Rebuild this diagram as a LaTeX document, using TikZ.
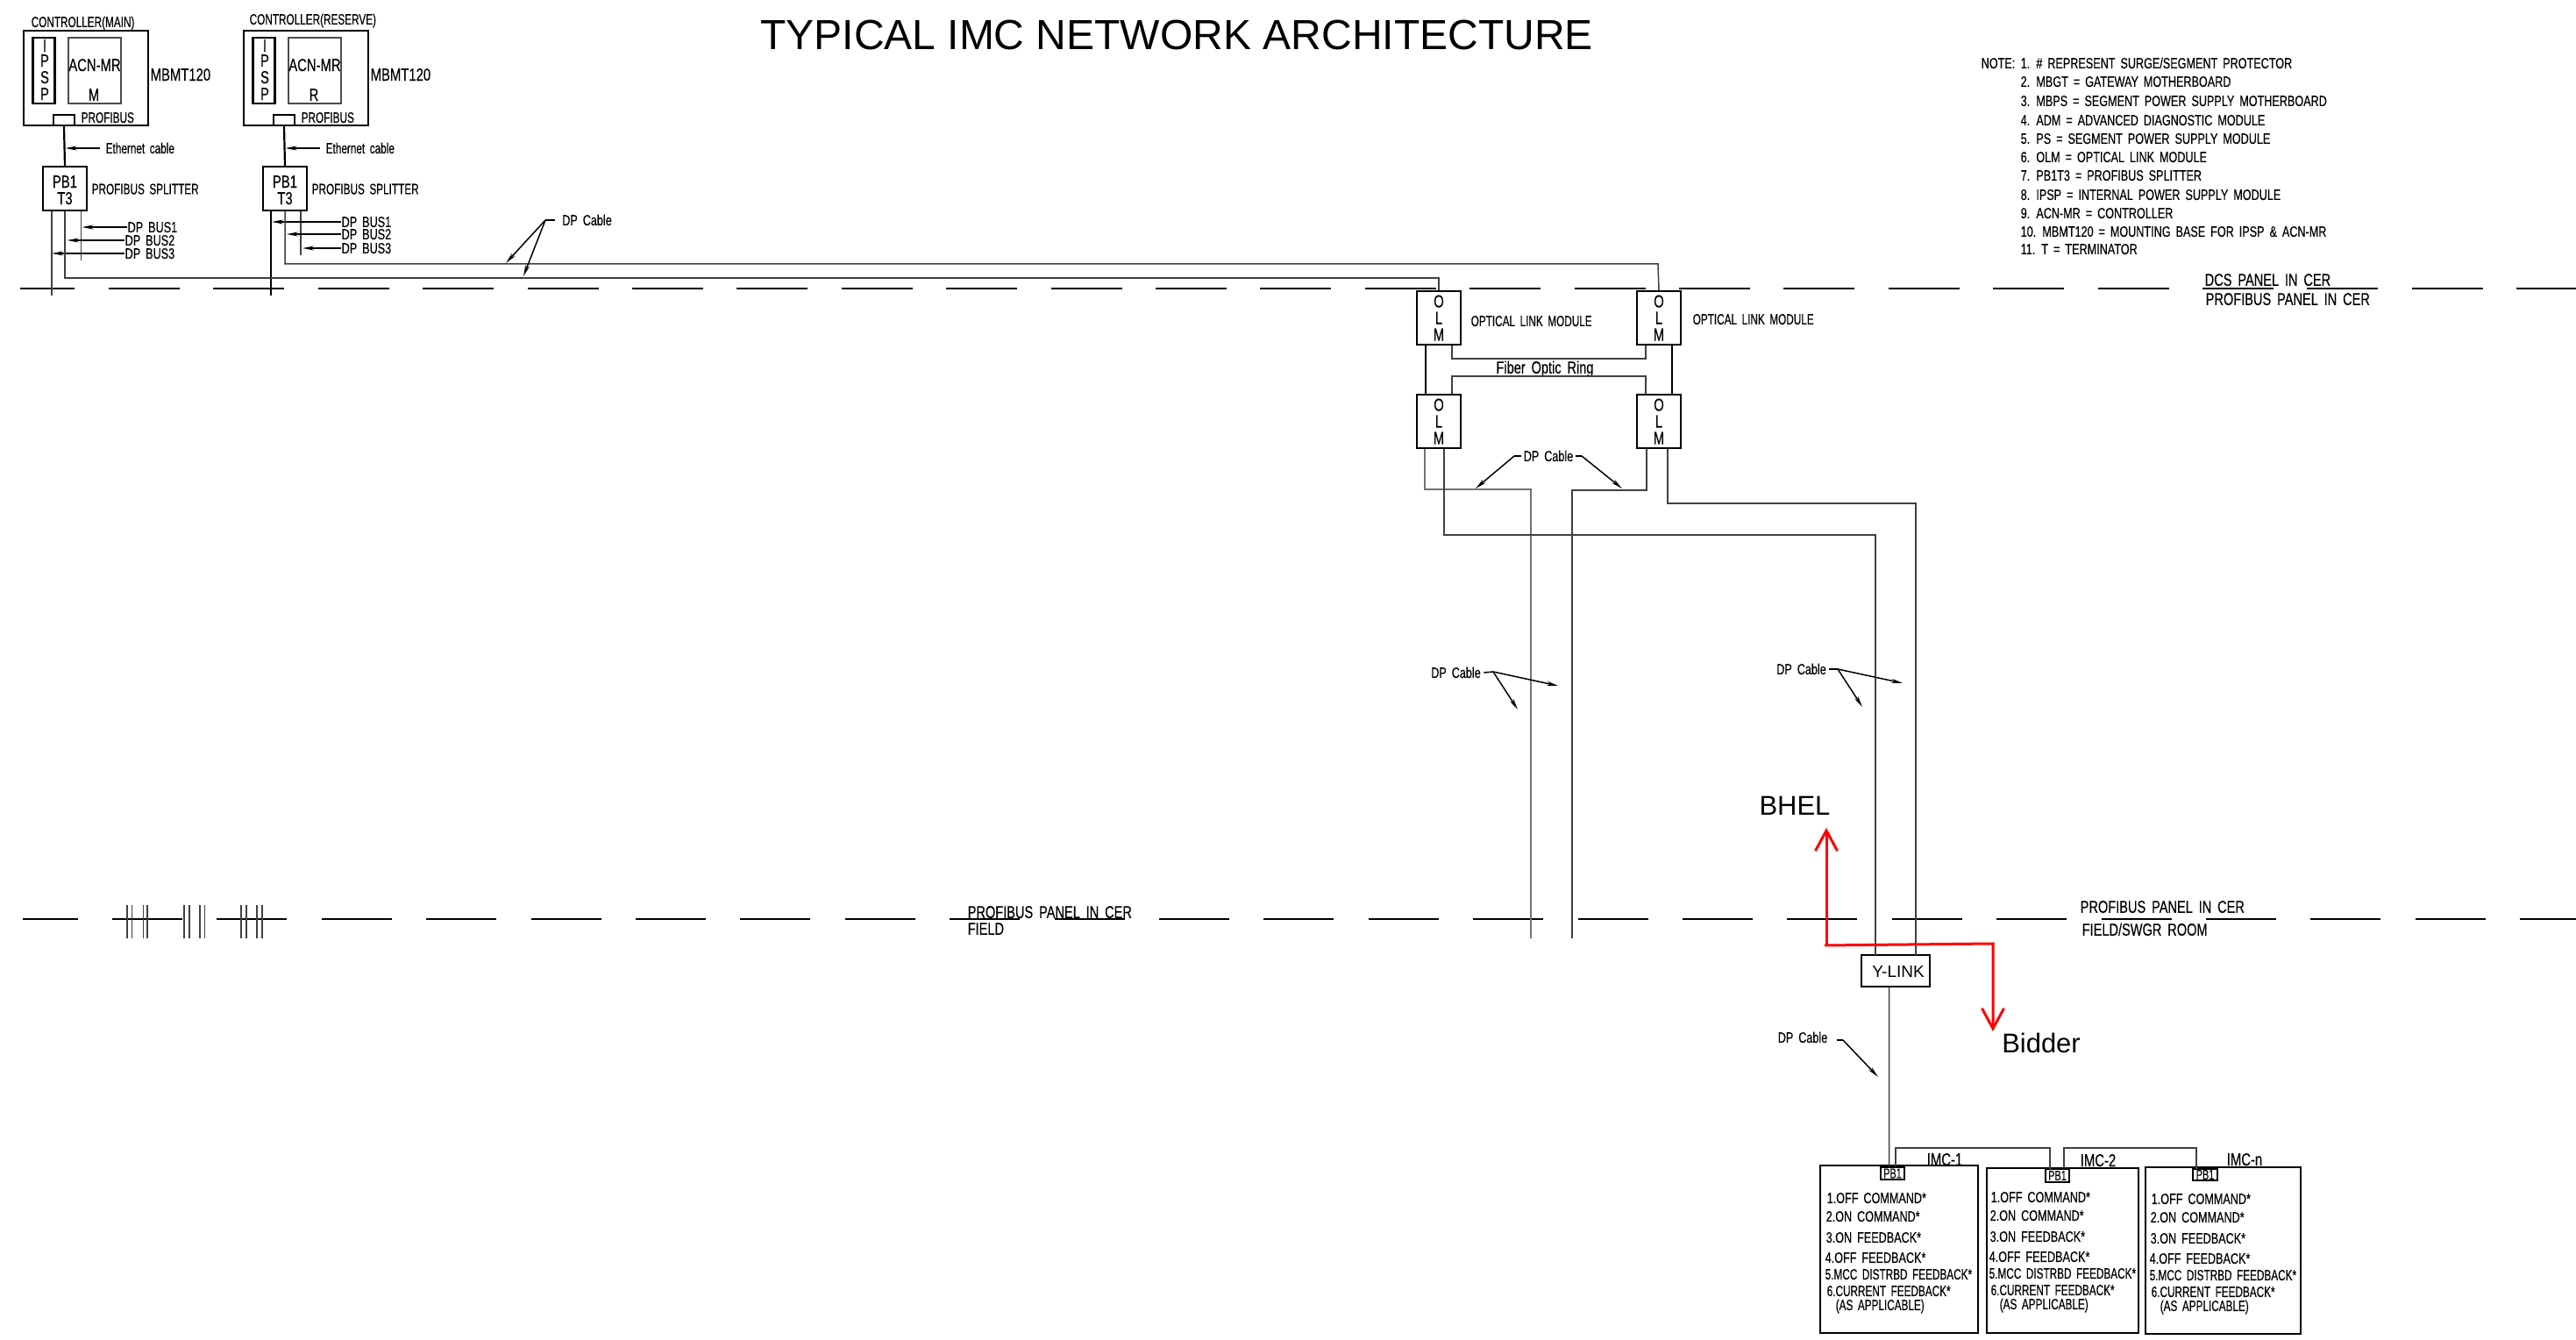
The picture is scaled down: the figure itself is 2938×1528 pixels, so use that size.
\documentclass[tikz,border=0pt]{standalone}
\usepackage{fontspec}
\usetikzlibrary{arrows.meta}
\setmainfont{Liberation Sans}
\newfontfamily\cadfont[FakeStretch=0.74,WordSpace=1.7,FakeBold=0.25]{Liberation Sans}
\newfontfamily\cadnarrow[FakeStretch=0.69,WordSpace=1.7,FakeBold=0.25]{Liberation Sans}
\tikzset{
	cadtext/.style={font=\cadfont\fontsize{4.85pt}{5pt}\selectfont, inner sep=0pt, text height=3.4pt, text depth=0pt},
	narrowtext/.style={font=\cadnarrow\fontsize{4.85pt}{5pt}\selectfont, inner sep=0pt, text height=3.4pt, text depth=0pt},
	paneltext/.style={font=\cadfont\fontsize{5.6pt}{6pt}\selectfont, inner sep=0pt, text height=3.9pt, text depth=0pt},
	boxtext/.style={font=\cadfont\fontsize{5.7pt}{6pt}\selectfont, inner sep=0pt, text height=4pt, text depth=0pt},
	tinytext/.style={font=\cadnarrow\fontsize{4.5pt}{5pt}\selectfont, inner sep=0pt, text height=3.1pt, text depth=0pt},
	bigtext/.style={font=\fontsize{8.8pt}{10pt}\selectfont, inner sep=0pt},
	unit/.style={draw, line width=.22mm, inner sep=0pt},
	wire/.style={line width=.15mm, draw=black!75},
	heavywire/.style={line width=.22mm},
	leader/.style={line width=.15mm, -{Stealth[length=1.3mm,width=.5mm]}},
	dash line/.style={line width=.25mm},
	handoff/.style={draw=red, line width=.3mm},
}
\newcommand{\imcrows}[3]{
	\foreach \n/\s/\dx/\dy/\t in {a/cadtext/0/0/{1.OFF COMMAND*}, b/cadtext/-1/21/{2.ON COMMAND*}, c/cadtext/-1/45/{3.ON FEEDBACK*}, d/cadtext/-2/68/{4.OFF FEEDBACK*}, e/narrowtext/-2/87/{5.MCC DISTRBD FEEDBACK*}, f/narrowtext/0/106/{6.CURRENT FEEDBACK*}, g/narrowtext/10/122/{(AS APPLICABLE)}} {
		\node[\s, anchor=west] (#1\n) at (#2+\dx,#3+\dy) {\t};
	}
}
\begin{document}
\begin{tikzpicture}[x=0.01cm, y=-0.01cm, line cap=butt, line join=miter]
	\useasboundingbox (0,0) rectangle (2938,1528);
	\node[font=\fontsize{13.65pt}{15pt}\selectfont, inner sep=0pt] (title) at (1342,40) {TYPICAL IMC NETWORK ARCHITECTURE};

	% panel boundaries
	\draw[dash line] (23,329) -- (85,329);
	\foreach \k in {0,...,23} {
		\draw[dash line] (124+119.4*\k,329) -- (205+119.4*\k,329);
	}
	\draw[dash line] (26,1048) -- (89,1048);
	\foreach \k in {0,...,23} {
		\draw[dash line] (128+119.4*\k,1048) -- (208+119.4*\k,1048);
	}
	\foreach \u in {145,150.5,163.5,168,210,216,228,233.5,275,281,293,299} {
		\draw[wire] (\u,1032) -- (\u,1070);
	}

	% controllers
	\foreach \c/\xa/\t/\lx/\ly/\lab in {main/27/M/35/25/{CONTROLLER(MAIN)}, res/278/R/284/22/{CONTROLLER(RESERVE)}} {
		\node[narrowtext, anchor=west] (\c head) at (\lx,\ly) {\lab};
		\node[unit, minimum width=14.2mm, minimum height=10.8mm] (\c base) at (\xa+71,89) {};
		\node[unit, minimum width=2.5mm, minimum height=7.5mm] (\c ipsp) at (\xa+23,80.5) {};
		\node[unit, draw=black!70, line width=.15mm, minimum width=6mm, minimum height=7.5mm] (\c acn) at (\xa+81,80.5) {};
		\node[unit, minimum width=2.4mm, minimum height=1.2mm] (\c port) at (\xa+46,137) {};
		\node[narrowtext, anchor=west] (\c pname) at (\xa+65,134) {PROFIBUS};
		\node[boxtext, anchor=west] (\c basename) at (\xa+144,85) {MBMT120};
		\foreach \n/\l/\yy in {a/I/52,b/P/69,c/S/88,d/P/107} {
			\node[boxtext] (\c\n) at (\xa+24,\yy) {\l};
		}
		\node[boxtext] (\c acnname) at (\xa+81,74) {ACN-MR};
		\node[boxtext] (\c tag) at (\xa+80,108) {\t};
		\node[unit, minimum width=5mm, minimum height=5mm, align=center] (\c split) at (\xa+47,215) {};
		\node[boxtext] (\c pba) at (\xa+47,207) {PB1};
		\node[boxtext] (\c pbb) at (\xa+47,226) {T3};
		\node[narrowtext, anchor=west] (\c sname) at (\xa+77,215.5) {PROFIBUS SPLITTER};
		\draw[heavywire] (\c port.south) -- (\c split.north);
		\coordinate (\c eth) at (\xa+47.5,169);
		\node[narrowtext, anchor=west] (\c ename) at (\xa+93,169) {Ethernet cable};
		\draw[leader] (\c ename.west) ++(-.6mm,0) -- (\c eth);
	}

	% splitter outputs
	\coordinate (mainA) at (59,337);
	\coordinate (mainB) at (75,317);
	\coordinate (mainC) at (92.6,297);
	\coordinate (resA) at (309,337);
	\coordinate (resB) at (324,301);
	\coordinate (resC) at (343,291);
	\draw[wire] (mainsplit.south -| mainA) -- (mainA);
	\draw[wire] (mainsplit.south -| mainC) -- (mainC);
	\draw[heavywire] (ressplit.south -| resA) -- (resA);
	\draw[wire] (ressplit.south -| resC) -- (resC);
	\foreach \c/\n/\xl/\yy/\xt/\t in {main/a/145/259/93.5/1, main/b/142/274/76.6/2, main/c/142/289/59/3, res/a/389/253/310/1, res/b/389/267/327/2, res/c/389/283/345/3} {
		\node[cadtext, anchor=west] (\c bus\n) at (\xl,\yy) {DP BUS\t};
		\coordinate (\c tip\n) at (\xt,\yy);
		\draw[leader] (\c bus\n.west) -- (\c tip\n);
	}

	% optical link modules
	\foreach \o/\xx/\yy in {A/1641/362.5,B/1892/362.5,C/1641/480.5,D/1892/480.5} {
		\node[unit, minimum width=5mm, minimum height=6.1mm] (olm\o) at (\xx,\yy) {};
		\foreach \l/\d in {O/-19,L/0,M/19} {
			\node[boxtext] (olm\o\l) at (\xx,\yy+\d) {\l};
		}
	}
	\node[narrowtext, anchor=west] (olmnameA) at (1677,366) {OPTICAL LINK MODULE};
	\node[narrowtext, anchor=west] (olmnameB) at (1930,364) {OPTICAL LINK MODULE};
	\node[paneltext] (ring) at (1762,419) {Fiber Optic Ring};
	\draw[heavywire] ([xshift=-1.5mm]olmA.south) -- ([xshift=-1.5mm]olmC.north);
	\draw[heavywire] ([xshift=1.5mm]olmB.south) -- ([xshift=1.5mm]olmD.north);
	\coordinate (ringA) at (1877,409);
	\coordinate (ringB) at (1877,429);
	\draw[wire] ([xshift=1.5mm]olmA.south) |- (ringA) -- (ringA |- olmB.south);
	\draw[wire] ([xshift=1.5mm]olmC.north) |- (ringB) -- (ringB |- olmD.north);

	% controller to olm cables
	\draw[wire] (mainsplit.south) |- (mainB) -- (1641,317) -- (olmA.north);
	\draw[wire] (ressplit.south) |- (resB) -- (1891,301) -- (olmB.north);
	\node[cadtext] (dpA) at (669.5,251) {DP Cable};
	\coordinate (forkA) at (622,251);
	\coordinate (tipAa) at (577,300);
	\coordinate (tipAb) at (597,315);
	\draw[line width=.15mm] (dpA.west) ++(-.8mm,0) -- (forkA);
	\draw[leader] (forkA) -- (tipAa);
	\draw[leader] (forkA) -- (tipAb);

	% cables down to y-link
	\node[unit, minimum width=7.8mm, minimum height=3.6mm] (ylink) at (2162,1107) {};
	\node[font=\fontsize{5.4pt}{6pt}\selectfont, inner sep=0pt, text height=3.9pt, text depth=0pt] (ylinkname) at (2165,1108) {Y-LINK};
	\coordinate (endA) at (1746,1070);
	\coordinate (endB) at (1793,1070);
	\draw[wire, draw=black!55] ([xshift=-1.6mm]olmC.south) |- (1746,558) -- (endA);
	\draw[wire] ([xshift=.6mm]olmC.south) |- (2139,610) -- (2139,1089);
	\draw[wire] ([xshift=-1.4mm]olmD.south) |- (1793,559) -- (endB);
	\draw[wire] ([xshift=1mm]olmD.south) |- (2185,574) -- (2185,1089);
	\node[cadtext] (dpB) at (1766,520) {DP Cable};
	\coordinate (forkB) at (1727,520);
	\coordinate (forkC) at (1804,520);
	\coordinate (tipBa) at (1683,557);
	\coordinate (tipBb) at (1850,557);
	\draw[line width=.15mm] (dpB.west) ++(-.2mm,0) -- (forkB);
	\draw[line width=.15mm] (dpB.east) ++(.2mm,0) -- (forkC);
	\draw[leader] (forkB) -- (tipBa);
	\draw[leader] (forkC) -- (tipBb);
	\node[cadtext] (dpC) at (1660.5,767) {DP Cable};
	\coordinate (forkD) at (1703,766);
	\coordinate (tipCa) at (1777,782);
	\coordinate (tipCb) at (1731,809);
	\draw[line width=.15mm] (dpC.east) ++(.3mm,0) -- (forkD);
	\draw[leader] (forkD) -- (tipCa);
	\draw[leader] (forkD) -- (tipCb);
	\node[cadtext] (dpD) at (2054.5,763) {DP Cable};
	\coordinate (forkE) at (2096,763);
	\coordinate (tipDa) at (2170,779);
	\coordinate (tipDb) at (2124,806);
	\draw[line width=.15mm] (dpD.east) ++(.3mm,0) -- (forkE);
	\draw[leader] (forkE) -- (tipDa);
	\draw[leader] (forkE) -- (tipDb);
	\node[cadtext] (dpE) at (2056,1183) {DP Cable};
	\coordinate (forkF) at (2102,1186);
	\coordinate (tipE) at (2142,1228);
	\draw[line width=.15mm] (dpE.east) ++(1mm,3) -- (forkF);
	\draw[leader] (forkF) -- (tipE);

	% imc field units
	\node[unit, minimum width=18mm, minimum height=19.1mm] (imcA) at (2166,1424.5) {};
	\node[unit, minimum width=17.3mm, minimum height=18.8mm] (imcB) at (2352.5,1426) {};
	\node[unit, line width=.28mm, minimum width=17.7mm, minimum height=19mm] (imcC) at (2535.5,1426) {};
	\node[unit, minimum width=2.7mm, minimum height=1.4mm] (pbA) at (2158.5,1338) {};
	\node[unit, minimum width=2.7mm, minimum height=1.5mm] (pbB) at (2346.5,1340.5) {};
	\node[unit, minimum width=2.8mm, minimum height=1.3mm] (pbC) at (2515,1339.5) {};
	\foreach \p in {A,B,C} {
		\node[tinytext] (pbname\p) at (pb\p) {PB1};
	}
	\node[boxtext] (imcnameA) at (2218,1322) {IMC-1};
	\node[boxtext] (imcnameB) at (2393,1323) {IMC-2};
	\node[boxtext] (imcnameC) at (2560,1322) {IMC-n};
	\imcrows{rowA}{2083}{1366}
	\imcrows{rowB}{2270}{1365}
	\imcrows{rowC}{2453}{1367}
	\draw[wire] ([xshift=-.75mm]ylink.south) -- ([xshift=-.4mm]pbA.north);
	\draw[wire] ([xshift=.35mm]pbA.north) |- (2338,1309) -- (2338,1333);
	\draw[wire] ([xshift=.75mm]pbB.north) |- (2505,1309) -- (2505,1333);

	% red handover
	\node[bigtext] (bhel) at (2047,919) {BHEL};
	\node[bigtext] (bidder) at (2328,1189) {Bidder};
	\coordinate (corner) at (2083,1077);
	\coordinate (turn) at (2273,1076);
	\coordinate (tipUp) at (2083,944);
	\coordinate (tipDown) at (2273,1176);
	\draw[handoff, -{Straight Barb[length=2.3mm,width=2.5mm]}] (corner) -- (tipUp);
	\draw[handoff, -{Straight Barb[length=2.3mm,width=2.5mm]}] (2081,1078) -- (turn) -- (tipDown);

	% panel names
	\node[paneltext, anchor=west] (dcs) at (2514,319) {DCS PANEL IN CER};
	\node[paneltext, anchor=west] (panelA) at (2515,341) {PROFIBUS PANEL IN CER};
	\node[paneltext, anchor=west] (panelB) at (1103,1040) {PROFIBUS PANEL IN CER};
	\node[paneltext, anchor=west] (fieldA) at (1103,1059) {FIELD};
	\node[paneltext, anchor=west] (panelC) at (2372,1034) {PROFIBUS PANEL IN CER};
	\node[paneltext, anchor=west] (fieldB) at (2374,1060) {FIELD/SWGR ROOM};

	% notes
	\node[cadtext, anchor=west] (note) at (2259,72) {NOTE:};
	\foreach \n/\yy/\t in {a/72/{1. \# REPRESENT SURGE/SEGMENT PROTECTOR}, b/93/{2. MBGT = GATEWAY MOTHERBOARD}, c/115/{3. MBPS = SEGMENT POWER SUPPLY MOTHERBOARD}, d/137/{4. ADM = ADVANCED DIAGNOSTIC MODULE}, e/158/{5. PS = SEGMENT POWER SUPPLY MODULE}, f/179/{6. OLM = OPTICAL LINK MODULE}, g/200/{7. PB1T3 = PROFIBUS SPLITTER}, h/222/{8. IPSP = INTERNAL POWER SUPPLY MODULE}, i/243/{9. ACN-MR = CONTROLLER}, j/264/{10. MBMT120 = MOUNTING BASE FOR IPSP \& ACN-MR}, k/284/{11. T = TERMINATOR}} {
		\node[cadtext, anchor=west] (note\n) at (2304,\yy) {\t};
	}
\end{tikzpicture}
\end{document}
